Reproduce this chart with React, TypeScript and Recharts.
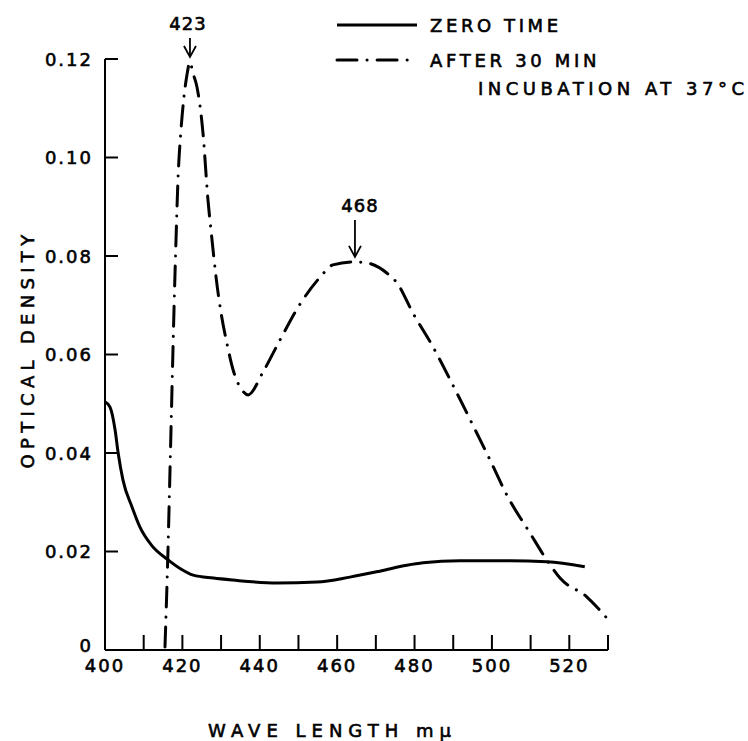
import { LineChart, Line, XAxis, YAxis, Legend, ReferenceDot, Label } from 'recharts';

// zero time curve
const zeroWavelength = [400, 401.3, 402.6, 403.4, 404.65, 407, 409, 412, 416.3, 419.5, 422.8, 428, 433, 444.4, 454.8, 463.3, 471, 478, 482.2, 491.7, 504.6, 514.2, 524];
const zeroDensity = [0.0504, 0.0493, 0.0447, 0.04, 0.0345, 0.029, 0.025, 0.0213, 0.0183, 0.0165, 0.0152, 0.0146, 0.0142, 0.0136, 0.0138, 0.0148, 0.016, 0.0172, 0.0177, 0.0181, 0.0181, 0.0179, 0.0169];

// after 30 min incubation
const incWavelength = [415.5, 416.28, 416.8, 417.31, 417.83, 418.35, 418.86, 419.64, 420.41, 421.19, 421.96, 422.7, 423.77, 425.32, 426.61, 427.6, 428.7, 430, 431.5, 433.1, 435.4, 437, 440.8, 445.2, 449.9, 455.6, 458.9, 464.6, 467.7, 472.9, 475.5, 479.6, 484.8, 489.9, 494.8, 499.5, 504.1, 509.8, 514.5, 517.6, 524.5, 530];
const incDensity = [0.0006, 0.0203, 0.0365, 0.0528, 0.069, 0.0832, 0.0954, 0.1056, 0.1123, 0.1168, 0.1194, 0.1172, 0.1143, 0.105, 0.0914, 0.0837, 0.0757, 0.0684, 0.0623, 0.0569, 0.0528, 0.0518, 0.0564, 0.0629, 0.0696, 0.0757, 0.0782, 0.0788, 0.0786, 0.0765, 0.0745, 0.0684, 0.0615, 0.0538, 0.0461, 0.0386, 0.0311, 0.0238, 0.0179, 0.0146, 0.0108, 0.0062];

const xTicks = [400, 410, 420, 430, 440, 450, 460, 470, 480, 490, 500, 510, 520, 530];
const xLabelled = [400, 420, 440, 460, 480, 500, 520];
const yTicks = [0, 0.02, 0.04, 0.06, 0.08, 0.1, 0.12];

const peakWavelength = [421.96, 464.6];
const peakDensity = [0.1194, 0.0788];
const peakLabels = ['423', '468'];

const zeroData = zeroWavelength.map((x, i) => ({ x, y: zeroDensity[i] }));
const incData = incWavelength.map((x, i) => ({ x, y: incDensity[i] }));

const FONT = '"DejaVu Sans", sans-serif';
const DASHDOT = '20 10 0.1 10';
const ink = { fill: '#000', stroke: '#000', strokeWidth: 0.6 };

// arrow length and label nudge for the two peak markers
const arrowTop = [24, 42];
const labelNudge = [-2, 5];

function PeakMarker(props: any, idx: number) {
  const { cx, cy } = props;
  const top = cy - arrowTop[idx];
  const tip = cy - 5;
  return (
    <g>
      <text x={cx + labelNudge[idx]} y={top - 8} textAnchor="middle" fontSize={18} letterSpacing={1} {...ink}>
        {peakLabels[idx]}
      </text>
      <line x1={cx} y1={top} x2={cx} y2={tip} stroke="#000" strokeWidth={1.8} />
      <polyline points={`${cx - 6},${tip - 11} ${cx},${tip} ${cx + 6},${tip - 11}`} fill="none" stroke="#000" strokeWidth={1.8} />
    </g>
  );
}

function LegendBox() {
  return (
    <svg width={420} height={100} style={{ overflow: 'visible' }}>
      <line x1={7} y1={25} x2={87} y2={25} stroke="#000" strokeWidth={3} />
      <text x={100} y={25} dominantBaseline="central" fontSize={18} letterSpacing={3.6} fontFamily={FONT} {...ink}>ZERO TIME</text>
      <line x1={7} y1={60} x2={87} y2={60} stroke="#000" strokeWidth={3} strokeDasharray={DASHDOT} strokeLinecap="round" />
      <text x={100} y={60} dominantBaseline="central" fontSize={18} letterSpacing={3.7} fontFamily={FONT} {...ink}>AFTER 30 MIN</text>
      <text x={148} y={88} dominantBaseline="central" fontSize={18} letterSpacing={4.5} fontFamily={FONT} {...ink}>INCUBATION AT 37°C</text>
    </svg>
  );
}

function YTick(props: any) {
  const { x, y, payload } = props;
  const v = payload.value as number;
  return (
    <text x={x} y={v === 0 ? y - 5 : y} textAnchor="end" dominantBaseline="central" fontSize={18} letterSpacing={2} {...ink}>
      {v === 0 ? '0' : v.toFixed(2)}
    </text>
  );
}

export default function App() {
  const axisStyle = { stroke: '#000', strokeWidth: 2 };
  return (
    <div style={{ position: 'absolute', left: 0, top: 0, width: 748, height: 741, background: '#fff', fontFamily: FONT }}>
      <LineChart width={748} height={741} margin={{ top: 59, right: 140, bottom: 51, left: 45 }}>
        <XAxis
          type="number"
          dataKey="x"
          domain={[400, 530]}
          ticks={xTicks}
          interval={0}
          allowDataOverflow
          height={40}
          tickSize={-15}
          tickMargin={24}
          axisLine={axisStyle}
          tickLine={axisStyle}
          tick={{ ...ink, fontSize: 18, letterSpacing: 2 }}
          tickFormatter={(v: number) => (xLabelled.includes(v) ? String(v) : '')}
        >
          <Label
            content={({ viewBox }: any) => (
              <text
                x={viewBox.x + viewBox.width / 2 - 24}
                y={737}
                textAnchor="middle"
                fontSize={18}
                letterSpacing={6}
                {...ink}
              >
                WAVE LENGTH mμ
              </text>
            )}
          />
        </XAxis>
        <YAxis
          type="number"
          domain={[0, 0.12]}
          ticks={yTicks}
          interval={0}
          width={60}
          tickSize={-13}
          tickMargin={25}
          axisLine={axisStyle}
          tickLine={axisStyle}
          tick={<YTick />}
        >
          <Label
            content={() => (
              <text
                x={27}
                y={349}
                transform="rotate(-90 27 349)"
                textAnchor="middle"
                dominantBaseline="central"
                fontSize={18}
                letterSpacing={5.3}
                {...ink}
              >
                OPTICAL DENSITY
              </text>
            )}
          />
        </YAxis>
        <Legend
          layout="vertical"
          align="center"
          verticalAlign="middle"
          content={() => <LegendBox />}
          wrapperStyle={{ position: 'absolute', left: 330, top: 0, width: 420 }}
        />
        <Line
          data={zeroData}
          dataKey="y"
          name="ZERO TIME"
          type="monotone"
          stroke="#000"
          strokeWidth={3}
          dot={false}
          activeDot={false}
          isAnimationActive={false}
        />
        <Line
          data={incData}
          dataKey="y"
          name="AFTER 30 MIN INCUBATION AT 37°C"
          type="monotone"
          stroke="#000"
          strokeWidth={3}
          strokeDasharray={DASHDOT}
          strokeLinecap="round"
          dot={false}
          activeDot={false}
          isAnimationActive={false}
        />
        {peakWavelength.map((x, i) => (
          <ReferenceDot
            key={peakLabels[i]}
            x={x}
            y={peakDensity[i]}
            r={0}
            ifOverflow="visible"
            shape={(p: any) => PeakMarker(p, i)}
          />
        ))}
      </LineChart>
    </div>
  );
}
